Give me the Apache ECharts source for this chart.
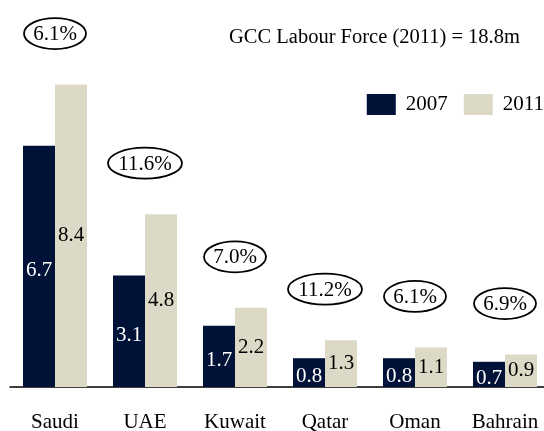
<!DOCTYPE html>
<html>
<head>
<meta charset="utf-8">
<script src="https://cdn.jsdelivr.net/npm/echarts@6/dist/echarts.min.js"></script>
<style>
html,body{margin:0;padding:0;background:#fff;}
#container{width:544px;height:431px;}
</style>
</head>
<body>
<div id="container"></div>
<script>
// GCC labour force by country, millions
var categories = ['Saudi', 'UAE', 'Kuwait', 'Qatar', 'Oman', 'Bahrain'];
var values2007 = [6.7, 3.1, 1.7, 0.8, 0.8, 0.7];
var values2011 = [8.4, 4.8, 2.2, 1.3, 1.1, 0.9];
var growth = ['6.1%', '11.6%', '7.0%', '11.2%', '6.1%', '6.9%'];

var serif = 'Liberation Serif';
var myChart = echarts.init(document.getElementById('container'));

var option = {
	backgroundColor: '#fff',
	animation: false,
	color: ['#001238', '#ddd9c7'],
	title: {
		text: 'GCC Labour Force (2011) = 18.8m',
		left: 229,
		top: 27,
		padding: 0,
		textStyle: {fontFamily: serif, fontSize: 20.5, fontWeight: 'normal', color: '#000'}
	},
	legend: {
		data: ['2007', '2011'],
		right: 0,
		top: 94,
		padding: 0,
		icon: 'rect',
		itemWidth: 29,
		itemHeight: 21,
		itemGap: 16,
		textStyle: {fontFamily: serif, fontSize: 21, color: '#000', padding: [0, 0, 0, 5]}
	},
	grid: {left: 10, top: 27, width: 540, height: 360, outerBoundsMode: 'none', containLabel: false},
	xAxis: {
		type: 'category',
		data: categories,
		axisTick: {show: false},
		axisLine: {lineStyle: {color: '#000', width: 1.5}},
		axisLabel: {fontFamily: serif, fontSize: 21, color: '#000', margin: 25}
	},
	yAxis: {type: 'value', min: 0, max: 10, show: false, splitLine: {show: false}},
	series: [{
		name: '2007',
		type: 'bar',
		barWidth: 32,
		barGap: '0%',
		data: values2007,
		label: {show: true, position: 'inside', offset: [0, 4], color: '#fff', fontFamily: serif, fontSize: 21}
	}, {
		name: '2011',
		type: 'bar',
		barWidth: 32,
		data: values2011,
		label: {show: true, position: 'inside', color: '#000', fontFamily: serif, fontSize: 21}
	}, {
		name: 'growth',
		type: 'custom',
		clip: false,
		data: values2011.map(function(v, i){ return [i, v]; }),
		renderItem: function(params, api){
			var p = api.coord([api.value(0), api.value(1)]);
			var txt = growth[params.dataIndex];
			var rx = txt.length > 4 ? 37 : 31;
			var cy = p[1] - 51;
			return {
				type: 'group',
				children: [{
					type: 'ellipse',
					shape: {cx: p[0], cy: cy, rx: rx, ry: 15.5},
					style: {fill: '#fff', stroke: '#000', lineWidth: 1.8}
				}, {
					type: 'text',
					style: {text: txt, x: p[0], y: cy + 1, align: 'center', verticalAlign: 'middle',
						fontFamily: serif, fontSize: 21, fill: '#000'}
				}]
			};
		}
	}]
};
myChart.setOption(option);
</script>
</body>
</html>
